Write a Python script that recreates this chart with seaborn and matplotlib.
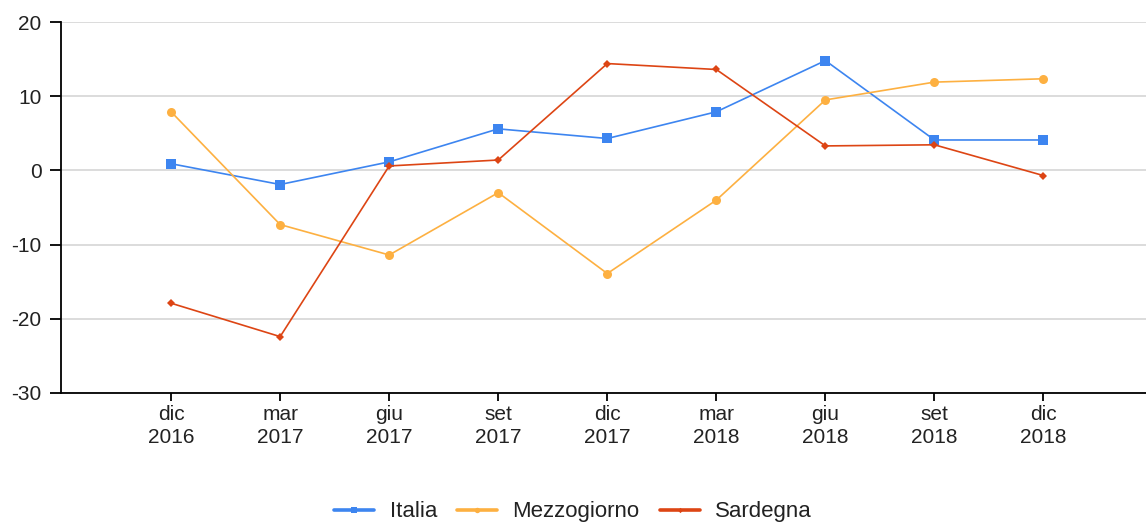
import matplotlib
matplotlib.use("Agg")
import matplotlib.pyplot as plt
import seaborn as sns
import pandas as pd

periods = ["dic\n2016", "mar\n2017", "giu\n2017", "set\n2017", "dic\n2017",
           "mar\n2018", "giu\n2018", "set\n2018", "dic\n2018"]
italia = [0.9, -1.9, 1.15, 5.6, 4.3, 7.9, 14.8, 4.1, 4.1]
mezzogiorno = [7.9, -7.3, -11.4, -3.0, -13.9, -4.0, 9.5, 11.9, 12.35]
sardegna = [-17.9, -22.4, 0.6, 1.4, 14.4, 13.6, 3.3, 3.45, -0.7]
series_names = ["Italia", "Mezzogiorno", "Sardegna"]
colors = ["#3d85f0", "#fdb041", "#dd4514"]

df = pd.DataFrame({
    "periodo": periods * 3,
    "valore": italia + mezzogiorno + sardegna,
    "serie": [s for s in series_names for _ in periods],
})

sns.set_theme(style="white")
plt.rcParams["font.family"] = ["Liberation Sans", "DejaVu Sans"]
plt.rcParams["axes.unicode_minus"] = False

fig = plt.figure(figsize=(11.46, 5.24), dpi=100)
ax = fig.add_axes([0.0532, 0.25, 0.9468, 0.708])

palette = dict(zip(series_names, colors))
markers = {"Italia": "s", "Mezzogiorno": "o", "Sardegna": "D"}
sizes = {"Italia": 7, "Mezzogiorno": 6.5, "Sardegna": 4.5}

for name in series_names:
    sub = df[df["serie"] == name]
    sns.lineplot(data=sub, x="periodo", y="valore", ax=ax, color=palette[name],
                 marker=markers[name], markersize=sizes[name], markeredgewidth=0,
                 linewidth=1.2, sort=False, label=name)

ax.set_xlim(-1.01, 8.94)
ax.set_ylim(-30, 20)
ax.set_yticks([-30, -20, -10, 0, 10, 20])
ax.set_xlabel("")
ax.set_ylabel("")
ax.grid(axis="y", color="#d9d9d9", linewidth=1.3)
ax.grid(axis="x", visible=False)
ax.set_axisbelow(True)
for s in ["top", "right"]:
    ax.spines[s].set_visible(False)
for s in ["left", "bottom"]:
    ax.spines[s].set_color("black")
    ax.spines[s].set_linewidth(1.3)
ax.tick_params(axis="y", which="major", left=True, length=8, width=1.3, color="black",
               labelsize=15, pad=6, labelcolor="#222222")
ax.tick_params(axis="x", which="major", bottom=True, length=6, width=1.3, color="black",
               labelsize=15, pad=3, labelcolor="#222222")
for lbl in ax.get_xticklabels():
    lbl.set_linespacing(1.25)

leg = ax.legend(loc="lower center", bbox_to_anchor=(0.5, -0.018), bbox_transform=fig.transFigure,
                ncol=3, frameon=False, fontsize=16, handlelength=1.8, handletextpad=0.7,
                columnspacing=0.9, borderaxespad=0.1, markerscale=0.6)
for t in leg.get_texts():
    t.set_color("#222222")
for h in leg.legend_handles:
    h.set_linewidth(2.6)

fig.savefig("out.png", dpi=100)
